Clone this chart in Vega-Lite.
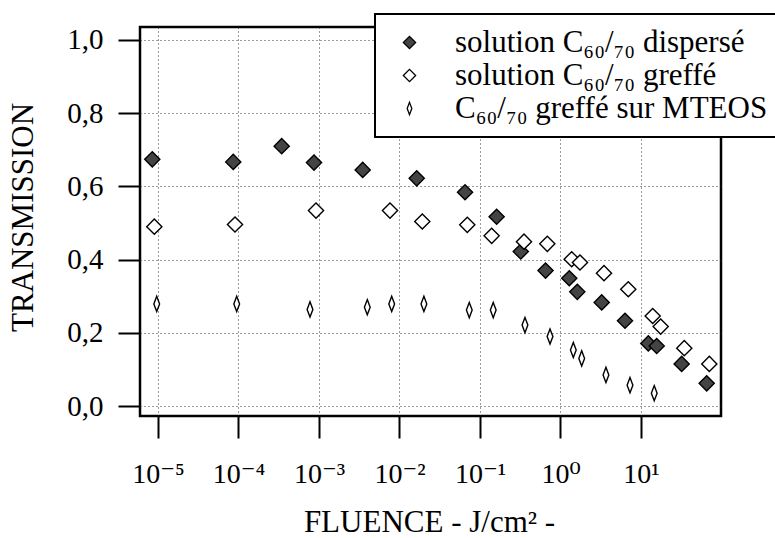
{
  "$schema": "https://vega.github.io/schema/vega-lite/v6.json",
  "width": 581,
  "height": 389,
  "autosize": {"type": "none"},
  "padding": {"left": 140, "top": 27, "right": 54, "bottom": 122},
  "background": "white",
  "config": {
    "font": "Liberation Serif, DejaVu Serif, serif",
    "view": {"stroke": "black", "strokeWidth": 2.5},
    "legend": {"strokeWidth": 2},
    "axis": {
      "domain": false,
      "grid": true,
      "gridDash": [1, 3],
      "gridColor": "#222222",
      "gridWidth": 1,
      "gridOpacity": 0.9,
      "tickColor": "black",
      "tickWidth": 2,
      "tickSize": 22,
      "labelFont": "Liberation Serif, DejaVu Serif, serif",
      "labelColor": "black",
      "labelFontSize": 29,
      "titleFont": "Liberation Serif, DejaVu Serif, serif",
      "titleFontSize": 31,
      "titleFontWeight": "normal",
      "titleColor": "black"
    }
  },
  "data": {
    "values": [
      {"serie": "solution C₆₀/₇₀ dispersé", "fluence": 8.49e-6, "transmission": 0.674},
      {"serie": "solution C₆₀/₇₀ dispersé", "fluence": 8.61e-5, "transmission": 0.667},
      {"serie": "solution C₆₀/₇₀ dispersé", "fluence": 3.44e-4, "transmission": 0.710},
      {"serie": "solution C₆₀/₇₀ dispersé", "fluence": 8.67e-4, "transmission": 0.665},
      {"serie": "solution C₆₀/₇₀ dispersé", "fluence": 3.49e-3, "transmission": 0.645},
      {"serie": "solution C₆₀/₇₀ dispersé", "fluence": 0.01637, "transmission": 0.622},
      {"serie": "solution C₆₀/₇₀ dispersé", "fluence": 0.0652, "transmission": 0.584},
      {"serie": "solution C₆₀/₇₀ dispersé", "fluence": 0.161, "transmission": 0.517},
      {"serie": "solution C₆₀/₇₀ dispersé", "fluence": 0.321, "transmission": 0.422},
      {"serie": "solution C₆₀/₇₀ dispersé", "fluence": 0.652, "transmission": 0.370},
      {"serie": "solution C₆₀/₇₀ dispersé", "fluence": 1.286, "transmission": 0.349},
      {"serie": "solution C₆₀/₇₀ dispersé", "fluence": 1.617, "transmission": 0.312},
      {"serie": "solution C₆₀/₇₀ dispersé", "fluence": 3.25, "transmission": 0.283},
      {"serie": "solution C₆₀/₇₀ dispersé", "fluence": 6.33, "transmission": 0.233},
      {"serie": "solution C₆₀/₇₀ dispersé", "fluence": 12.33, "transmission": 0.171},
      {"serie": "solution C₆₀/₇₀ dispersé", "fluence": 15.67, "transmission": 0.164},
      {"serie": "solution C₆₀/₇₀ dispersé", "fluence": 32.0, "transmission": 0.115},
      {"serie": "solution C₆₀/₇₀ dispersé", "fluence": 65.5, "transmission": 0.062},
      {"serie": "solution C₆₀/₇₀ greffé", "fluence": 9.0e-6, "transmission": 0.490},
      {"serie": "solution C₆₀/₇₀ greffé", "fluence": 9.05e-5, "transmission": 0.496},
      {"serie": "solution C₆₀/₇₀ greffé", "fluence": 9.18e-4, "transmission": 0.534},
      {"serie": "solution C₆₀/₇₀ greffé", "fluence": 7.62e-3, "transmission": 0.534},
      {"serie": "solution C₆₀/₇₀ greffé", "fluence": 0.0192, "transmission": 0.504},
      {"serie": "solution C₆₀/₇₀ greffé", "fluence": 0.0695, "transmission": 0.495},
      {"serie": "solution C₆₀/₇₀ greffé", "fluence": 0.1396, "transmission": 0.465},
      {"serie": "solution C₆₀/₇₀ greffé", "fluence": 0.352, "transmission": 0.449},
      {"serie": "solution C₆₀/₇₀ greffé", "fluence": 0.686, "transmission": 0.443},
      {"serie": "solution C₆₀/₇₀ greffé", "fluence": 1.377, "transmission": 0.401},
      {"serie": "solution C₆₀/₇₀ greffé", "fluence": 1.746, "transmission": 0.392},
      {"serie": "solution C₆₀/₇₀ greffé", "fluence": 3.47, "transmission": 0.363},
      {"serie": "solution C₆₀/₇₀ greffé", "fluence": 6.95, "transmission": 0.319},
      {"serie": "solution C₆₀/₇₀ greffé", "fluence": 13.97, "transmission": 0.246},
      {"serie": "solution C₆₀/₇₀ greffé", "fluence": 17.57, "transmission": 0.217},
      {"serie": "solution C₆₀/₇₀ greffé", "fluence": 34.5, "transmission": 0.158},
      {"serie": "solution C₆₀/₇₀ greffé", "fluence": 70.6, "transmission": 0.115},
      {"serie": "C₆₀/₇₀ greffé sur MTEOS", "fluence": 9.64e-6, "transmission": 0.279},
      {"serie": "C₆₀/₇₀ greffé sur MTEOS", "fluence": 9.5e-5, "transmission": 0.279},
      {"serie": "C₆₀/₇₀ greffé sur MTEOS", "fluence": 7.73e-4, "transmission": 0.264},
      {"serie": "C₆₀/₇₀ greffé sur MTEOS", "fluence": 3.98e-3, "transmission": 0.270},
      {"serie": "C₆₀/₇₀ greffé sur MTEOS", "fluence": 8.0e-3, "transmission": 0.279},
      {"serie": "C₆₀/₇₀ greffé sur MTEOS", "fluence": 0.0201, "transmission": 0.279},
      {"serie": "C₆₀/₇₀ greffé sur MTEOS", "fluence": 0.0736, "transmission": 0.262},
      {"serie": "C₆₀/₇₀ greffé sur MTEOS", "fluence": 0.146, "transmission": 0.262},
      {"serie": "C₆₀/₇₀ greffé sur MTEOS", "fluence": 0.362, "transmission": 0.221},
      {"serie": "C₆₀/₇₀ greffé sur MTEOS", "fluence": 0.741, "transmission": 0.190},
      {"serie": "C₆₀/₇₀ greffé sur MTEOS", "fluence": 1.443, "transmission": 0.153},
      {"serie": "C₆₀/₇₀ greffé sur MTEOS", "fluence": 1.834, "transmission": 0.130},
      {"serie": "C₆₀/₇₀ greffé sur MTEOS", "fluence": 3.67, "transmission": 0.085},
      {"serie": "C₆₀/₇₀ greffé sur MTEOS", "fluence": 7.30, "transmission": 0.057},
      {"serie": "C₆₀/₇₀ greffé sur MTEOS", "fluence": 14.6, "transmission": 0.035}
    ]
  },
  "mark": {"type": "point", "filled": true, "strokeWidth": 1.4, "opacity": 1, "size": 230},
  "encoding": {
    "x": {
      "field": "fluence",
      "type": "quantitative",
      "scale": {"type": "log", "domain": [5.976e-6, 98.6], "nice": false},
      "axis": {
        "values": [1e-5, 1e-4, 1e-3, 0.01, 0.1, 1, 10],
        "labelExpr": "datum.value < 5e-5 ? '10⁻⁵' : datum.value < 5e-4 ? '10⁻⁴' : datum.value < 5e-3 ? '10⁻³' : datum.value < 5e-2 ? '10⁻²' : datum.value < 0.5 ? '10⁻¹' : datum.value < 5 ? '10⁰' : '10¹'",
        "labelFontSize": 28,
        "labelPadding": 22,
        "title": "FLUENCE - J/cm² -",
        "titleX": 289,
        "titleY": 115,
        "titleBaseline": "alphabetic",
        "titleAlign": "center"
      }
    },
    "y": {
      "field": "transmission",
      "type": "quantitative",
      "scale": {"domain": [-0.0273, 1.0355], "nice": false, "zero": false},
      "axis": {
        "values": [0, 0.2, 0.4, 0.6, 0.8, 1.0],
        "labelExpr": "replace(format(datum.value, '.1f'), '.', ',')",
        "labelPadding": 15,
        "title": "TRANSMISSION",
        "titleX": -108,
        "titleY": 190,
        "titleAngle": -90,
        "titleBaseline": "alphabetic",
        "titleAlign": "center"
      }
    },
    "shape": {
      "field": "serie",
      "type": "nominal",
      "scale": {
        "domain": ["solution C₆₀/₇₀ dispersé", "solution C₆₀/₇₀ greffé", "C₆₀/₇₀ greffé sur MTEOS"],
        "range": ["diamond", "diamond", "M0,-1L0.38,0L0,1L-0.38,0Z"]
      },
      "legend": {
        "title": null,
        "orient": "none",
        "legendX": 235,
        "legendY": -13,
        "padding": 13,
        "strokeColor": "black",
        "fillColor": "white",
        "labelFont": "Liberation Serif, DejaVu Serif, serif",
        "labelFontSize": 31,
        "labelColor": "black",
        "labelLimit": 0,
        "labelOffset": 30,
        "symbolOffset": 6,
        "symbolSize": 150,
        "symbolStrokeWidth": 1.3,
        "rowPadding": 1
      }
    },
    "fill": {
      "field": "serie",
      "type": "nominal",
      "scale": {
        "domain": ["solution C₆₀/₇₀ dispersé", "solution C₆₀/₇₀ greffé", "C₆₀/₇₀ greffé sur MTEOS"],
        "range": ["#444444", "white", "white"]
      },
      "legend": {
        "title": null,
        "orient": "none",
        "legendX": 235,
        "legendY": -13,
        "padding": 13,
        "strokeColor": "black",
        "fillColor": "white",
        "labelFont": "Liberation Serif, DejaVu Serif, serif",
        "labelFontSize": 31,
        "labelColor": "black",
        "labelLimit": 0,
        "labelOffset": 30,
        "symbolOffset": 6,
        "symbolSize": 150,
        "symbolStrokeWidth": 1.3,
        "rowPadding": 1
      }
    },
    "stroke": {
      "field": "serie",
      "type": "nominal",
      "scale": {
        "domain": ["solution C₆₀/₇₀ dispersé", "solution C₆₀/₇₀ greffé", "C₆₀/₇₀ greffé sur MTEOS"],
        "range": ["black", "black", "black"]
      },
      "legend": {
        "title": null,
        "orient": "none",
        "legendX": 235,
        "legendY": -13,
        "padding": 13,
        "strokeColor": "black",
        "fillColor": "white",
        "labelFont": "Liberation Serif, DejaVu Serif, serif",
        "labelFontSize": 31,
        "labelColor": "black",
        "labelLimit": 0,
        "labelOffset": 30,
        "symbolOffset": 6,
        "symbolSize": 150,
        "symbolStrokeWidth": 1.3,
        "rowPadding": 1
      }
    }
  }
}
